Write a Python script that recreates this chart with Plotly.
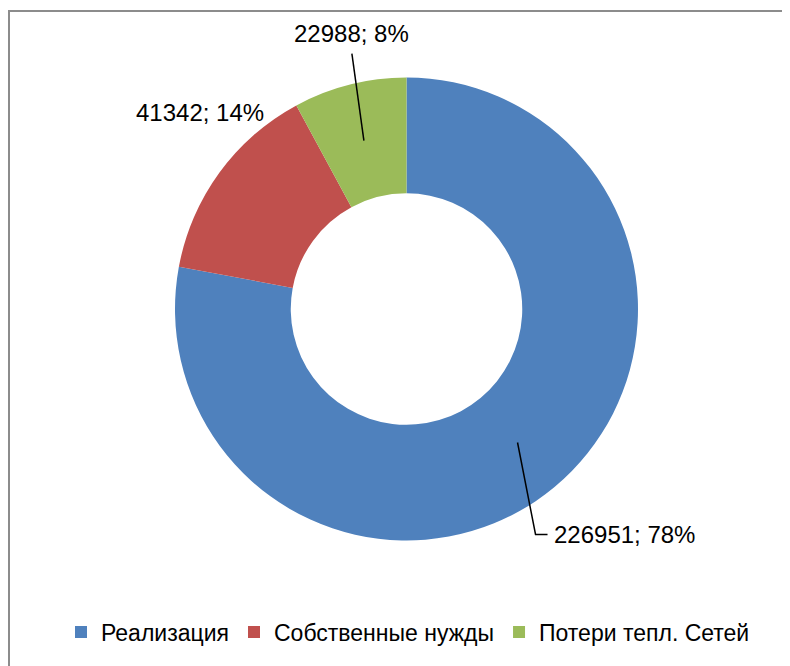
import math
import plotly.graph_objects as go

labels = ["Реализация", "Собственные нужды", "Потери тепл. Сетей"]
values = [226951, 41342, 22988]
colors = ["#4F81BD", "#C0504D", "#9BBB59"]

W, H = 790, 666
OFF = 8  # page body margin
cx, cy, R = 406.5 - OFF, 309 - OFF, 231.5
hole = 0.5
font = dict(family="Liberation Sans, Arial, sans-serif", size=24, color="black")


def px(x):
    return x / W


def py(y):
    return 1 - y / H


total = sum(values)
mid_angles = []
acc = 0
for v in values:
    mid_angles.append((acc + v / 2) / total * 2 * math.pi)
    acc += v

# point on the middle of the ring for each slice (pixel coords)
rm = R * (1 + hole) / 2
anchors = [(cx + rm * math.sin(a), cy - rm * math.cos(a)) for a in mid_angles]
texts = ["{}; {}%".format(v, round(v / total * 100)) for v in values]

fig = go.Figure(go.Pie(
    labels=labels, values=values, hole=hole, sort=False, direction="clockwise",
    marker=dict(colors=colors, line=dict(width=0)), textinfo="none",
    hoverinfo="label+value+percent",
    domain=dict(x=[px(cx - R), px(cx + R)], y=[py(cy + R), py(cy - R)]),
))

shapes = [dict(type="rect", xref="paper", yref="paper", x0=px(9 - OFF), x1=1.2, y0=-0.2, y1=py(11 - OFF),
               line=dict(color="#8c8c8c", width=2), layer="below")]
annotations = []

# blue: leader with elbow
x0, y0 = anchors[0]
ex, ey = x0 + 18, y0 + 92
shapes.append(dict(type="path", xref="paper", yref="paper",
                   path="M{},{} L{},{} L{},{}".format(px(x0), py(y0), px(ex), py(ey), px(ex + 12), py(ey)),
                   line=dict(color="black", width=1.5)))
annotations.append(dict(x=px(ex + 16), y=py(ey), xref="paper", yref="paper", text=texts[0],
                        showarrow=False, xanchor="left", yanchor="middle", font=font))

# red: no leader
x1, y1 = anchors[1]
annotations.append(dict(x=px(x1 - 66), y=py(y1 - 94), xref="paper", yref="paper", text=texts[1],
                        showarrow=False, xanchor="center", yanchor="middle", font=font))

# green: straight leader
x2, y2 = anchors[2]
gx, gy = x2 - 12, y2 - 87
shapes.append(dict(type="path", xref="paper", yref="paper",
                   path="M{},{} L{},{}".format(px(x2), py(y2), px(gx), py(gy)),
                   line=dict(color="black", width=1.5)))
annotations.append(dict(x=px(gx), y=py(gy - 20), xref="paper", yref="paper", text=texts[2],
                        showarrow=False, xanchor="center", yanchor="middle", font=font))

fig.update_layout(
    width=W, height=H, margin=dict(l=0, r=0, t=0, b=0),
    paper_bgcolor="white", plot_bgcolor="white",
    showlegend=True,
    legend=dict(orientation="h", x=px(400), xanchor="center", y=py(632 - OFF), yanchor="middle",
                font=dict(family="Liberation Sans, Arial, sans-serif", size=23, color="black"),
                itemclick=False),
    shapes=shapes, annotations=annotations,
)
fig.write_html("out.html")
